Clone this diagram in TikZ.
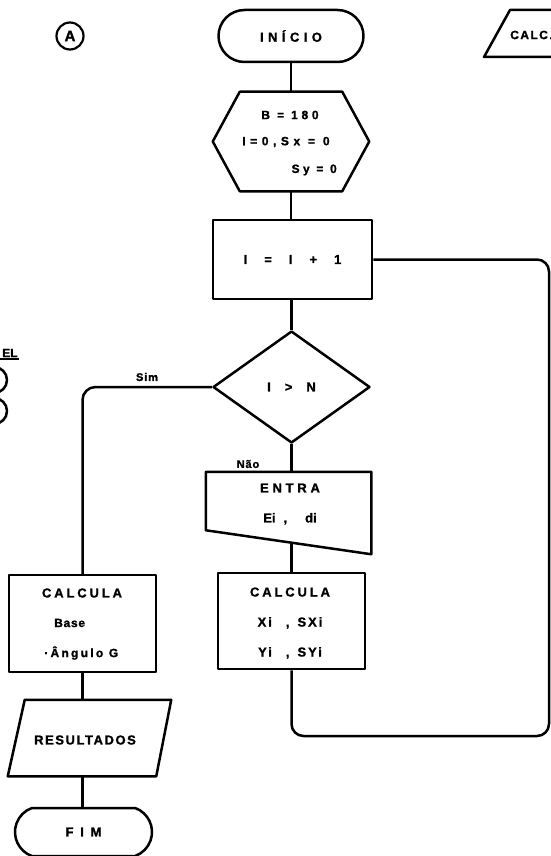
\documentclass[tikz,border=0pt]{standalone}
\usepackage{fontspec}
\setmainfont{Liberation Sans}
\newfontfamily\lettering{Liberation Sans}[BoldFeatures={FakeBold=1.3}]
\newcommand\trk[1]{\addfontfeature{LetterSpace=#1}}
\usetikzlibrary{shapes.geometric,shapes.misc,calc}

\begin{document}
\begin{tikzpicture}[x=1pt,y=-1pt,
  line width=2.5pt, line join=round,
  txt/.style={inner sep=0pt, align=center,
    font=\lettering\bfseries\fontsize{13}{30}\selectfont},
  small/.style={inner sep=0pt,
    font=\lettering\bfseries\fontsize{11}{12}\selectfont},
  mid/.style={inner sep=0pt,
    font=\lettering\bfseries\fontsize{12}{13}\selectfont},
  frame/.style={inner sep=0pt},
  procbox/.style={draw, rectangle, inner sep=0pt},
  term/.style={draw, rounded rectangle, inner sep=0pt, txt},
  decide/.style={draw, diamond, inner sep=0pt, txt}]

\useasboundingbox (0,0) rectangle (551,856);

% page marker and cut-off neighbours
\node[draw, circle, minimum size=27pt, inner sep=0pt, line width=2.2pt,
      font=\lettering\bfseries\fontsize{15}{16}\selectfont] (mark) at (70,36) {A};

\coordinate (ctr) at (570,10);
\coordinate (ctl) at (510,10);
\coordinate (cbl) at (484,57);
\coordinate (cbr) at (570,57);
\draw (ctr) -- (ctl) -- (cbl) -- (cbr);
\node[mid, anchor=west] (calcsub) at (509,35) {\trk{12}CALC.};

\node[mid, anchor=west] (elabel) at (1,353) {EL};
\draw[line width=2pt] (-20,359) -- (19,359);
\draw (-6,380) circle[radius=13pt];
\draw (-6,411) circle[radius=13pt];

% main column
\node[term, minimum width=145pt, minimum height=52pt] (inicio) at (291,36)
  {\trk{34}INÍCIO};

\node[frame, minimum width=154pt, minimum height=97pt] (hex) at (291,141.5) {};
\draw (hex.west) -- ([xshift=27pt]hex.north west) -- ([xshift=-27pt]hex.north east)
  -- (hex.east) -- ([xshift=-27pt]hex.south east) -- ([xshift=27pt]hex.south west) -- cycle;
\node[mid] (hexa) at (290,115) {\trk{31}B = 180};
\node[mid] (hexb) at (286,142) {\trk{38}I=0,Sx = 0};
\node[mid, anchor=east] (hexc) at (338,170) {\trk{28}Sy = 0};

\node[procbox, txt, minimum width=159pt, minimum height=79pt] (inc) at (292.5,259.5)
  {I\hspace{17pt}=\hspace{17pt}I\hspace{17pt}+\hspace{17pt}1};

\node[decide, minimum width=157pt, minimum height=112pt] (dec) at (291.5,387)
  {I\hspace{14pt}>\hspace{14pt}N};

\node[small] (sim) at (147,377) {\trk{8}Sim};
\node[small] (nao) at (248,464) {\trk{8}Não};

\node[frame, minimum width=163pt, minimum height=80pt] (entra) at (288.5,513) {};
\draw (entra.north west) -- (entra.north east) -- (entra.south east)
  -- ([yshift=24pt]entra.south west) -- cycle;
\node[txt] (entratxt) at (290,504) {\trk{29}ENTRA\\Ei\hspace{8pt},\hspace{18pt}di};
\coordinate (eb) at ($([yshift=24pt]entra.south west)!0.518!(entra.south east)$);

\node[procbox, minimum width=147pt, minimum height=96pt] (calcR) at (291.5,621) {};
\node[txt] (calcRtxt) at (290,623)
  {\trk{22}CALCULA\\\trk{15}Xi\hspace{14pt},\hspace{8pt}SXi\\\trk{15}Yi\hspace{14pt},\hspace{8pt}SYi};

% left column
\node[procbox, minimum width=147pt, minimum height=97pt] (calcL) at (82.5,623.5) {};
\node[txt] (calcLtxt) at (82,593) {\trk{22}CALCULA};
\node[mid, anchor=west] (base) at (53,623) {\trk{6}Base};
\node[mid, anchor=west] (angulo) at (43,653) {\trk{19}·Ângulo G};

\node[frame, minimum width=161pt, minimum height=74pt] (res) at (89.5,738) {};
\draw ([xshift=17pt]res.north west) -- (res.north east)
  -- ([xshift=-15pt]res.south east) -- (res.south west) -- cycle;
\node[txt] (restxt) at (85,740) {\trk{12}RESULTADOS};

\node[term, rounded rectangle arc length=140, minimum width=137pt, minimum height=48pt]
  (fim) at (83.5,832) {\trk{52}FIM};

% connectors
\draw (inicio.south) -- (inicio.south |- hex.north);
\draw (hex.south) -- (hex.south |- inc.north);
\draw (dec.north |- inc.south) -- (dec.north);
\draw (dec.south) -- (dec.south |- entra.north);
\draw (eb) -- (eb |- calcR.north);
\draw[rounded corners=13pt] (dec.west) -| (calcL.north);
\draw (calcL.south) -- (calcL.south |- res.north);
\draw (calcL.south |- res.south) -- (calcL.south |- fim.north);

\coordinate (loopBR) at (549,736);
\draw[rounded corners=12pt] (calcR.south) |- (loopBR) |- (inc.east);

\end{tikzpicture}
\end{document}
